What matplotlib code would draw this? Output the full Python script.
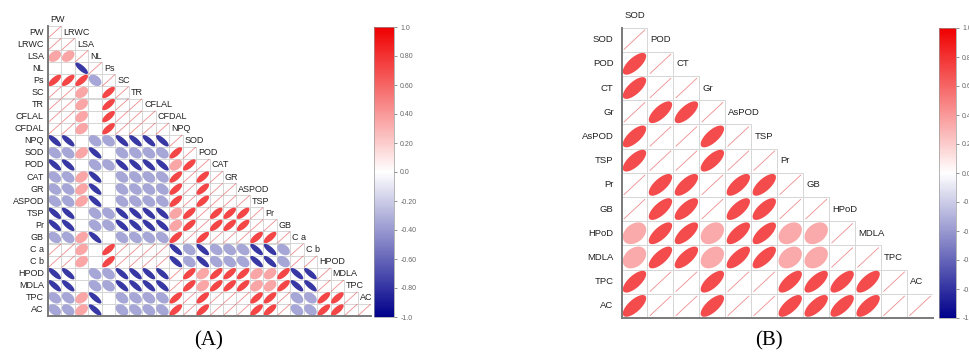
import numpy as np
import matplotlib.pyplot as plt
from matplotlib.colors import LinearSegmentedColormap, Normalize
from matplotlib.patches import Polygon, Rectangle
from matplotlib.cm import ScalarMappable

plt.rcParams['font.family'] = ['Liberation Sans', 'DejaVu Sans']

W, H = 969, 352

# panel A: lower triangle (incl. diagonal), 1.0 = drawn as a line, 0 = empty cell
labels_a = ['PW', 'LRWC', 'LSA', 'NL', 'Ps', 'SC', 'TR', 'CFLAL', 'CFDAL', 'NPQ',
            'SOD', 'POD', 'CAT', 'GR', 'ASPOD', 'TSP', 'Pr', 'GB', 'C a', 'C b',
            'HPOD', 'MDLA', 'TPC', 'AC']
corr_a = [
    [1],
    [1, 1],
    [.35, .35, 1],
    [0, 0, -.78, 1],
    [.72, .72, .72, -.35, 1],
    [1, 1, .35, 0, .72, 1],
    [1, 1, .35, 0, .72, 1, 1],
    [1, 1, .35, 0, .72, 1, 1, 1],
    [1, 1, .35, 0, .72, 1, 1, 1, 1],
    [-.78, -.78, 0, -.35, -.35, -.78, -.78, -.78, -.78, 1],
    [-.35, -.35, .35, -.78, 0, -.35, -.35, -.35, -.35, .72, 1],
    [-.78, -.78, 0, -.35, -.35, -.78, -.78, -.78, -.78, .35, .72, 1],
    [-.35, -.35, .35, -.78, 0, -.35, -.35, -.35, -.35, .72, 1, .72, 1],
    [-.35, -.35, .35, -.78, 0, -.35, -.35, -.35, -.35, .72, 1, .72, 1, 1],
    [-.35, -.35, .35, -.78, 0, -.35, -.35, -.35, -.35, .72, 1, .72, 1, 1, 1],
    [-.78, -.78, 0, -.35, -.35, -.78, -.78, -.78, -.78, .35, .72, 1, .72, .72, .72, 1],
    [-.78, -.78, 0, -.35, -.35, -.78, -.78, -.78, -.78, .35, .72, 1, .72, .72, .72, 1, 1],
    [-.35, -.35, .35, -.78, 0, -.35, -.35, -.35, -.35, .72, 1, .72, 1, 1, 1, .72, .72, 1],
    [1, 1, .35, 0, .72, 1, 1, 1, 1, -.78, -.35, -.78, -.35, -.35, -.35, -.78, -.78, -.35, 1],
    [1, 1, .35, 0, .72, 1, 1, 1, 1, -.78, -.35, -.78, -.35, -.35, -.35, -.78, -.78, -.35, 1, 1],
    [-.78, -.78, 0, -.35, -.35, -.78, -.78, -.78, -.78, 1, .72, .35, .72, .72, .72, .35, .35, .72,
     -.78, -.78, 1],
    [-.78, -.78, 0, -.35, -.35, -.78, -.78, -.78, -.78, 1, .72, .35, .72, .72, .72, .35, .35, .72,
     -.78, -.78, 1, 1],
    [-.35, -.35, .35, -.78, 0, -.35, -.35, -.35, -.35, .72, 1, .72, 1, 1, 1, .72, .72, 1,
     -.35, -.35, .72, .72, 1],
    [-.35, -.35, .35, -.78, 0, -.35, -.35, -.35, -.35, .72, 1, .72, 1, 1, 1, .72, .72, 1,
     -.35, -.35, .72, .72, 1, 1],
]

labels_b = ['SOD', 'POD', 'CT', 'Gr', 'AsPOD', 'TSP', 'Pr', 'GB', 'HPoD', 'MDLA', 'TPC', 'AC']
corr_b = [
    [1],
    [.7, 1],
    [.7, 1, 1],
    [1, .7, .7, 1],
    [.7, 1, 1, .7, 1],
    [.7, 1, 1, .7, 1, 1],
    [1, .7, .7, 1, .7, .7, 1],
    [1, .7, .7, 1, .7, .7, 1, 1],
    [.33, .7, .7, .33, .7, .7, .33, .33, 1],
    [.33, .7, .7, .33, .7, .7, .33, .33, 1, 1],
    [.7, 1, 1, .7, 1, 1, .7, .7, .7, .7, 1],
    [.7, 1, 1, .7, 1, 1, .7, .7, .7, .7, 1, 1],
]

cb_ticks = [1.0, 0.8, 0.6, 0.4, 0.2, 0.0, -0.2, -0.4, -0.6, -0.8, -1.0]
cb_labels = ['1.0', '0.80', '0.60', '0.40', '0.20', '0.0', '-0.20', '-0.40', '-0.60', '-0.80', '-1.0']

cmap = LinearSegmentedColormap.from_list('rb', ['#00008B', '#FFFFFF', '#F00000'])
norm = Normalize(-1, 1)

fig = plt.figure(figsize=(W / 100, H / 100), dpi=100)


def px_axes(left, top, right, bottom):
    return fig.add_axes([left / W, 1 - bottom / H, (right - left) / W, (bottom - top) / H])


def corr_panel(ax, labels, rows, margin, lab_dx, fs, s):
    n = len(labels)
    ax.set_xlim(0, n)
    ax.set_ylim(n, 0)
    t = np.linspace(0, 2 * np.pi, 80)
    for i, row in enumerate(rows):
        for j, r in enumerate(row):
            ax.add_patch(Rectangle((j, i), 1, 1, fill=False, ec='#D6D6D6', lw=0.7))
            cx, cy = j + 0.5, i + 0.5
            if r >= 0.99:
                ax.plot([j + margin, j + 1 - margin], [i + 1 - margin, i + margin],
                        color='#E03030', alpha=0.55, lw=0.6)
            elif r != 0:
                d = np.arccos(r)
                dx = s * np.cos(t + d / 2)
                dy = s * np.cos(t - d / 2)
                ax.add_patch(Polygon(np.column_stack([cx + dx, cy - dy]),
                                     closed=True, fc=cmap(norm(r)), ec='none'))
    for i, lab in enumerate(labels):
        ax.text(-0.3, i + 0.5, lab, ha='right', va='center', fontsize=fs, color='#222222')
        ax.text(i + lab_dx, i - 0.5, lab, ha='left', va='center', fontsize=fs, color='#222222')
    for sp in ['top', 'right']:
        ax.spines[sp].set_visible(False)
    for sp in ['left', 'bottom']:
        ax.spines[sp].set_color('#7A7A7A')
        ax.spines[sp].set_linewidth(1.4)
    ax.set_xticks([])
    ax.set_yticks([])


def colorbar(cax):
    cb = fig.colorbar(ScalarMappable(norm=norm, cmap=cmap), cax=cax)
    cb.set_ticks(cb_ticks)
    cb.set_ticklabels(cb_labels)
    cb.outline.set_edgecolor('#999999')
    cb.outline.set_linewidth(0.5)
    cax.tick_params(colors='#666666', labelsize=5, length=2.5, width=0.5, pad=2)


ax_a = px_axes(48, 26, 371, 316)
corr_panel(ax_a, labels_a, corr_a, 0.04, 0.15, 6.5, 0.47)
colorbar(px_axes(374, 27, 394, 317))

ax_b = px_axes(621.5, 27.5, 933, 318)
corr_panel(ax_b, labels_b, corr_b, 0.1, 0.12, 6.8, 0.45)
colorbar(px_axes(939, 28, 956, 318))

fig.text(209 / W, 1 - 341 / H, '(A)', family='Liberation Serif', fontsize=15, ha='center', va='center')
fig.text(769 / W, 1 - 341 / H, '(B)', family='Liberation Serif', fontsize=15, ha='center', va='center')

fig.savefig('out.png', dpi=100)
